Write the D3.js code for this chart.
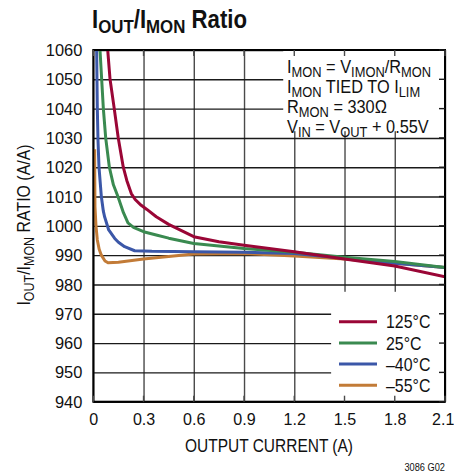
<!DOCTYPE html>
<html>
<head>
<meta charset="utf-8">
<script src="https://cdn.jsdelivr.net/npm/d3@7"></script>
<style>
  body { margin: 0; background: #fff; }
  svg text { font-family: "Liberation Sans", Arial, sans-serif; fill: #111; }
</style>
</head>
<body>
<div id="chart"></div>
<script>
// data (output current in A, ratio in A/A)
var current125 = [0.086, 0.100, 0.125, 0.149, 0.179, 0.200, 0.227, 0.250, 0.286, 0.320, 0.376, 0.450, 0.600, 0.750, 0.900, 1.200, 1.500, 1.800, 2.100];
var ratio125   = [1060, 1050, 1040, 1030, 1020, 1015.5, 1011, 1009, 1007, 1005.6, 1003.1, 1000.5, 996.3, 994.6, 993.4, 991.2, 988.7, 986.3, 982.6];

var current25 = [0.040, 0.050, 0.060, 0.074, 0.096, 0.120, 0.147, 0.180, 0.207, 0.240, 0.300, 0.376, 0.450, 0.600, 0.900, 1.200, 1.500, 1.800, 2.100];
var ratio25   = [1060, 1050, 1040, 1030, 1020, 1014, 1010, 1004.5, 1001, 999.5, 998, 996.9, 995.8, 994, 992.3, 991, 989.3, 987.8, 985.8];

var currentM40 = [0.020, 0.024, 0.028, 0.034, 0.048, 0.060, 0.068, 0.092, 0.128, 0.150, 0.187, 0.247, 0.350, 0.600, 0.900, 1.200, 1.500, 1.800, 2.100];
var ratioM40   = [1060, 1040, 1029.3, 1020, 1010, 1005, 1003, 998.6, 995.7, 994.4, 992.9, 991.5, 991.3, 991.2, 991, 990.6, 988.9, 987.2, 985.8];

var currentM55 = [0.008, 0.009, 0.010, 0.016, 0.024, 0.035, 0.048, 0.070, 0.088, 0.150, 0.300, 0.600, 0.900, 1.200, 1.500, 1.800, 2.100];
var ratioM55   = [1026.1, 1015, 1006.5, 1000, 995.2, 992, 990, 988, 987.4, 987.6, 988.7, 990.4, 990.6, 989.7, 988.7, 987.2, 985.8];

var seriesNames  = ["125°C", "25°C", "\u201340°C", "\u201355°C"];
var seriesColors = ["#9a0636", "#3a8a50", "#3b57a8", "#c27b37"];
var seriesX = [current125, current25, currentM40, currentM55];
var seriesY = [ratio125, ratio25, ratioM40, ratioM55];

var xTicks = [0, 0.3, 0.6, 0.9, 1.2, 1.5, 1.8, 2.1];
var xTickLabels = ["0", "0.3", "0.6", "0.9", "1.2", "1.5", "1.8", "2.1"];
var yTicks = [940, 950, 960, 970, 980, 990, 1000, 1010, 1020, 1030, 1040, 1050, 1060];

var noteLines = [
  [["I", 0], ["MON", 1], [" = V", 0], ["IMON", 1], ["/R", 0], ["MON", 1]],
  [["I", 0], ["MON", 1], [" TIED TO I", 0], ["LIM", 1]],
  [["R", 0], ["MON", 1], [" = 330\u03A9", 0]],
  [["V", 0], ["IN", 1], [" = V", 0], ["OUT", 1], [" + 0.55V", 0]]
];

var width = 454, height = 474;
var margin = { top: 50, right: 9, bottom: 72.3, left: 93.3 };
var w = width - margin.left - margin.right;
var h = height - margin.top - margin.bottom;

var svg = d3.select("#chart").append("svg")
  .attr("width", width)
  .attr("height", height);

var g = svg.append("g")
  .attr("transform", "translate(" + margin.left + "," + margin.top + ")");

var x = d3.scaleLinear().domain([0, 2.1]).range([0, w]);
var y = d3.scaleLinear().domain([940, 1060]).range([h, 0]);

// write text with subscript pieces
function richText(sel, parts, size, subSize, shift) {
  var down = false;
  parts.forEach(function(p) {
    var t = sel.append("tspan").text(p[0]);
    if (p[1] && !down) { t.attr("dy", shift).style("font-size", subSize + "px"); down = true; }
    else if (p[1]) { t.style("font-size", subSize + "px"); }
    else if (down) { t.attr("dy", -shift).style("font-size", size + "px"); down = false; }
    else { t.style("font-size", size + "px"); }
  });
}

// squeeze text horizontally around its anchor (the original uses a narrow face)
function condense(sel, sx) {
  sel.each(function() {
    var t = d3.select(this);
    var tx = +t.attr("x") || 0;
    var prev = t.attr("transform") || "";
    t.attr("transform", prev + " translate(" + tx + ",0) scale(" + sx + ",1) translate(" + (-tx) + ",0)");
  });
}

// grid
g.append("g")
  .attr("transform", "translate(0," + h + ")")
  .call(d3.axisBottom(x).tickValues(xTicks).tickSize(-h).tickFormat(""))
  .call(function(a) { a.select(".domain").remove(); })
  .selectAll(".tick line").attr("stroke", "#4a4a4a").attr("stroke-width", 1.4);
g.append("g")
  .call(d3.axisLeft(y).tickValues(yTicks).tickSize(-w).tickFormat(""))
  .call(function(a) { a.select(".domain").remove(); })
  .selectAll(".tick line").attr("stroke", "#1a1a1a").attr("stroke-width", 1.4);

// white boxes behind the note and legend
g.append("rect")
  .attr("x", x(1.134)).attr("y", 0)
  .attr("width", w - x(1.134)).attr("height", y(1032.3))
  .attr("fill", "#fff");
g.append("rect")
  .attr("x", x(1.42)).attr("y", y(977.5))
  .attr("width", w - x(1.42)).attr("height", h - y(977.5))
  .attr("fill", "#fff");

// curves
svg.append("clipPath").attr("id", "plotClip")
  .append("rect").attr("width", w).attr("height", h);

var line = d3.line()
  .x(function(d) { return x(d[0]); })
  .y(function(d) { return y(d[1]); });

var curves = g.append("g").attr("clip-path", "url(#plotClip)");
for (var s = 3; s >= 0; s--) {
  var pts = seriesX[s].map(function(v, i) { return [v, seriesY[s][i]]; });
  curves.append("path")
    .datum(pts)
    .attr("fill", "none")
    .attr("stroke", seriesColors[s])
    .attr("stroke-width", 3)
    .attr("stroke-linejoin", "round")
    .attr("d", line);
}

// frame with small inward ticks
g.append("rect")
  .attr("width", w).attr("height", h)
  .attr("fill", "none")
  .attr("stroke", "#000")
  .attr("stroke-width", 2);
xTicks.forEach(function(t) {
  g.append("line").attr("x1", x(t)).attr("x2", x(t)).attr("y1", h).attr("y2", h - 6)
    .attr("stroke", "#4a4a4a").attr("stroke-width", 1.4);
  g.append("line").attr("x1", x(t)).attr("x2", x(t)).attr("y1", 0).attr("y2", 6)
    .attr("stroke", "#4a4a4a").attr("stroke-width", 1.4);
});
yTicks.forEach(function(t) {
  g.append("line").attr("x1", w).attr("x2", w - 6).attr("y1", y(t)).attr("y2", y(t))
    .attr("stroke", "#1a1a1a").attr("stroke-width", 1.4);
});

// tick labels
var xLabels = g.append("g")
  .attr("transform", "translate(0," + h + ")")
  .call(d3.axisBottom(x).tickValues(xTicks).tickSize(0).tickPadding(11)
    .tickFormat(function(d, i) { return xTickLabels[i]; }))
  .call(function(a) { a.select(".domain").remove(); })
  .selectAll("text").style("font-size", "17.3px").style("font-family", null).style("fill", "#111")
  .attr("dx", function(d, i) { return i === xTicks.length - 1 ? -2.5 : 0; })
  .call(condense, 0.93);

g.append("g")
  .call(d3.axisLeft(y).tickValues(yTicks).tickSize(0).tickPadding(11).tickFormat(d3.format("d")))
  .call(function(a) { a.select(".domain").remove(); })
  .selectAll("text").style("font-size", "17.3px").style("font-family", null).style("fill", "#111")
  .call(condense, 0.95);

// note text
var notes = svg.append("g");
noteLines.forEach(function(parts, i) {
  var t = notes.append("text")
    .attr("x", 287)
    .attr("y", 72.7 + i * 20.2);
  richText(t, parts, 19, 15, 4);
});
notes.selectAll("text").call(condense, 0.86);

// legend
seriesNames.forEach(function(name, i) {
  var ly = 321.7 + i * 21.2;
  svg.append("line")
    .attr("x1", 339).attr("x2", 377)
    .attr("y1", ly).attr("y2", ly)
    .attr("stroke", seriesColors[i])
    .attr("stroke-width", 3);
  svg.append("text")
    .attr("x", 386).attr("y", ly + 6.7)
    .style("font-size", "18.5px")
    .text(name)
    .call(condense, 0.86);
});

// title (bold condensed face in the original, fitted to its width)
var title = svg.append("text")
  .attr("x", 92).attr("y", 27.5)
  .attr("textLength", 155)
  .attr("lengthAdjust", "spacingAndGlyphs")
  .style("font-weight", "bold");
richText(title, [["I", 0], ["OUT", 1], ["/I", 0], ["MON", 1], [" Ratio", 0]], 25, 19, 5);

// axis titles
svg.append("text")
  .attr("x", 269).attr("y", 452)
  .attr("text-anchor", "middle")
  .attr("textLength", 168)
  .attr("lengthAdjust", "spacingAndGlyphs")
  .style("font-size", "18.5px")
  .text("OUTPUT CURRENT (A)");

var yTitle = svg.append("text")
  .attr("transform", "translate(30,225) rotate(-90)")
  .attr("text-anchor", "middle");
richText(yTitle, [["I", 0], ["OUT", 1], ["/I", 0], ["MON", 1], [" RATIO (A/A)", 0]], 18.5, 14.5, 4);
yTitle.call(condense, 0.86);

svg.append("text")
  .attr("x", 445).attr("y", 471)
  .attr("text-anchor", "end")
  .style("font-size", "10.5px")
  .text("3086 G02")
  .call(condense, 0.88);
</script>
</body>
</html>
